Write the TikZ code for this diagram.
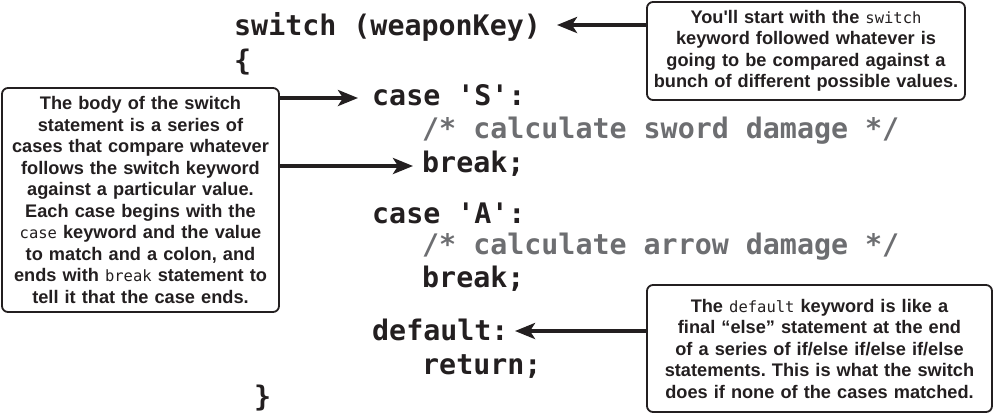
\documentclass[tikz,border=0pt]{standalone}
\usepackage{fontspec}
\usetikzlibrary{arrows.meta}
\newfontfamily\codefont{DejaVu Sans Mono}
\newfontfamily\calfont{Liberation Sans}
\newfontfamily\calmono{DejaVu Sans Mono}
\definecolor{ink}{HTML}{231F20}
\definecolor{cmt}{HTML}{6D6E71}
\newcommand\kw[1]{{\calmono\mdseries\fontsize{15.5}{21.5}\selectfont #1}}
\frenchspacing
\tikzset{
  code/.style={anchor=base west, inner sep=0pt, text=ink,
    font=\codefont\bfseries\fontsize{28.3}{34}\selectfont},
  comment/.style={code, text=cmt},
  callout/.style={draw=ink, line width=1.8pt, rounded corners=6pt, inner sep=0pt,
    align=center, text=ink, font=\calfont\bfseries\fontsize{18.2}{21.5}\selectfont},
  arr/.style={draw=ink, line width=4pt, -{Stealth[length=20pt,width=16pt,inset=5pt]}}
}
\begin{document}
\begin{tikzpicture}[x=1pt,y=-1pt]
\useasboundingbox (0,0) rectangle (995,416);
% code
\node[code] (sw) at (234,35) {switch (weaponKey)};
\node[code] (lb) at (234,70) {\{};
\node[code] (caseS) at (372,105) {case 'S':};
\node[comment] (cmS) at (422,138) {/* calculate sword damage */};
\node[code] (brS) at (422,172) {break;};
\node[code] (caseA) at (372,223) {case 'A':};
\node[comment] (cmA) at (422,254) {/* calculate arrow damage */};
\node[code] (brA) at (422,287) {break;};
\node[code] (def) at (372,340) {default:};
\node[code] (ret) at (422,374) {return;};
\node[code] (rb) at (254,406) {\}};
% callouts
\node[callout, minimum width=318pt, minimum height=98pt, text width=314pt] (tbox) at (806,51)
  {You'll start with the \kw{switch}\\ keyword followed whatever is\\ going to be compared against a\\ bunch of different possible values.};
\node[callout, minimum width=277pt, minimum height=224pt, text width=273pt] (lbox) at (140.5,200)
  {The body of the switch\\ statement is a series of\\ cases that compare whatever\\ follows the switch keyword\\ against a particular value.\\ Each case begins with the\\ \kw{case} keyword and the value\\ to match and a colon, and\\ ends with \kw{break} statement to\\ tell it that the case ends.};
\node[callout, minimum width=345pt, minimum height=127pt, text width=341pt] (bbox) at (819.5,348.5)
  {The \kw{default} keyword is like a\\ final “else” statement at the end\\ of a series of if/else if/else if/else\\ statements. This is what the switch\\ does if none of the cases matched.};
% arrows
\coordinate (tipTop) at (557,25);
\coordinate (tipS) at (358,98);
\coordinate (tipBr) at (413,166);
\coordinate (tipDef) at (515,331);
\draw[arr] (tbox.west |- tipTop) -- (tipTop);
\draw[arr] (lbox.east |- tipS) -- (tipS);
\draw[arr] (lbox.east |- tipBr) -- (tipBr);
\draw[arr] (bbox.west |- tipDef) -- (tipDef);
\end{tikzpicture}
\end{document}
